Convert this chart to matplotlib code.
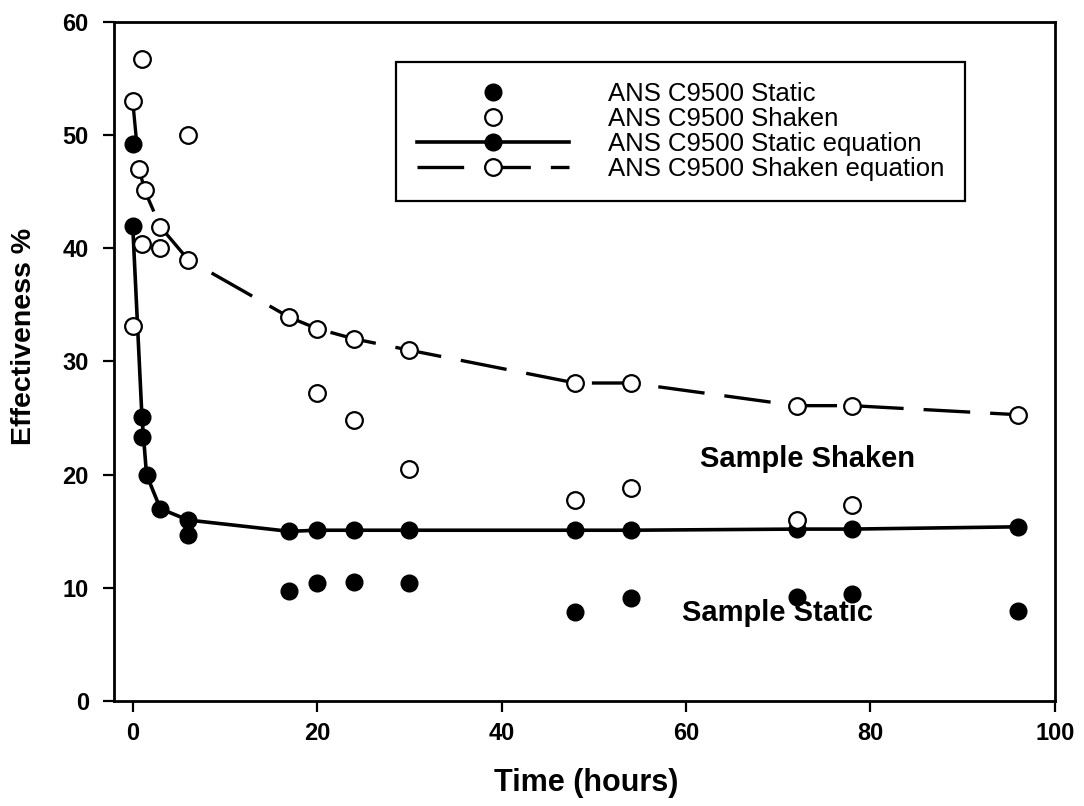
import matplotlib
matplotlib.use('Agg')
import matplotlib.pyplot as plt

# data
static_t = [0, 1, 6, 17, 20, 24, 30, 48, 54, 72, 78, 96]
static_y = [49.2, 23.3, 14.7, 9.7, 10.4, 10.5, 10.4, 7.9, 9.1, 9.2, 9.5, 8.0]

shaken_t = [0, 1, 1, 3, 6, 20, 24, 30, 48, 54, 72, 78]
shaken_y = [33.1, 56.7, 40.4, 40.0, 50.0, 27.2, 24.8, 20.5, 17.8, 18.8, 16.0, 17.3]

static_eq_t = [0, 1, 1.5, 3, 6, 17, 20, 24, 30, 48, 54, 72, 78, 96]
static_eq_y = [42.0, 25.1, 20.0, 17.0, 16.0, 15.0, 15.1, 15.1, 15.1, 15.1, 15.1, 15.2, 15.2, 15.4]

shaken_eq_t = [0, 0.7, 1.3, 3, 6, 17, 20, 24, 30, 48, 54, 72, 78, 96]
shaken_eq_y = [53.0, 47.0, 45.1, 41.9, 39.0, 33.9, 32.9, 32.0, 31.0, 28.1, 28.1, 26.1, 26.1, 25.3]

x_ticks = [0, 20, 40, 60, 80, 100]
y_ticks = [0, 10, 20, 30, 40, 50, 60]

plt.rcParams['font.family'] = ['Liberation Sans', 'DejaVu Sans']

fig = plt.figure(figsize=(10.84, 8.06), dpi=100)
ax = fig.add_axes([0.105, 0.130, 0.868, 0.843])

ms = 12
ax.plot(static_eq_t, static_eq_y, color='black', lw=2.6, marker='o', ms=ms,
        mfc='black', mec='black', label='ANS C9500 Static equation', zorder=3)
ax.plot(shaken_eq_t, shaken_eq_y, color='black', lw=2.4, dashes=(14, 6), marker='o', ms=ms,
        mfc='white', mec='black', mew=1.6, label='ANS C9500 Shaken equation', zorder=3)
ax.plot(static_t, static_y, ls='none', marker='o', ms=ms, mfc='black', mec='black',
        label='ANS C9500 Static', zorder=4)
ax.plot(shaken_t, shaken_y, ls='none', marker='o', ms=ms, mfc='white', mec='black', mew=1.6,
        label='ANS C9500 Shaken', zorder=4)

ax.set_xlim(-2.05, 100)
ax.set_ylim(0, 60)
ax.set_xticks(x_ticks)
ax.set_yticks(y_ticks)
ax.tick_params(direction='out', length=8, width=1.6, labelsize=17)
ax.tick_params(axis='y', pad=10)
ax.tick_params(axis='x', pad=7)
for lab in ax.get_xticklabels() + ax.get_yticklabels():
    lab.set_fontweight('bold')
for s in ax.spines.values():
    s.set_linewidth(2)

ax.set_xlabel('Time (hours)', fontsize=22, fontweight='bold')
ax.xaxis.set_label_coords(0.502, -0.098)
ax.set_ylabel('Effectiveness %', fontsize=20.5, fontweight='bold')
ax.yaxis.set_label_coords(-0.082, 0.537)

ax.text(73.2, 21.4, 'Sample Shaken', fontsize=21, fontweight='bold', ha='center', va='center')
ax.text(69.9, 7.8, 'Sample Static', fontsize=21, fontweight='bold', ha='center', va='center')

handles, labels = ax.get_legend_handles_labels()
order = [2, 3, 0, 1]
leg = ax.legend([handles[i] for i in order], [labels[i] for i in order],
                loc='upper right', bbox_to_anchor=(0.905, 0.941), fontsize=18.5,
                handlelength=5.9, handletextpad=1.55, labelspacing=0.03,
                borderpad=0.8, borderaxespad=0, fancybox=False, framealpha=1,
                edgecolor='black')
leg.get_frame().set_linewidth(1.6)

fig.savefig('out.png', dpi=100)
